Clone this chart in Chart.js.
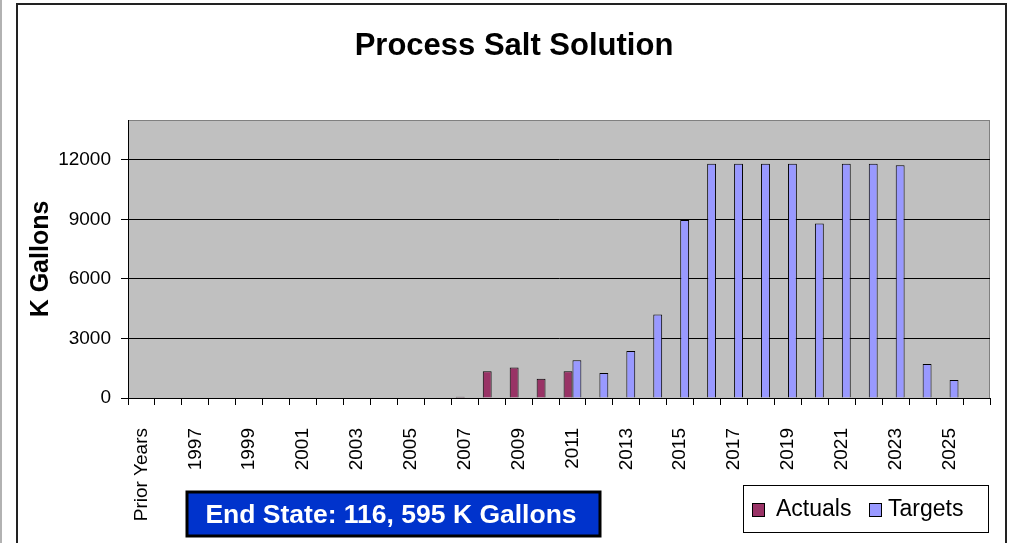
<!DOCTYPE html>
<html lang="en">
<head>
    <meta charset="UTF-8">
    <title>Process Salt Solution</title>
    <script src="https://cdn.jsdelivr.net/npm/chart.js@4.4.1/dist/chart.umd.min.js"></script>
    <style>
        body {
            margin: 0;
            background: #ffffff;
        }
        .chart-box {
            position: relative;
            width: 1013px;
            height: 543px;
        }
    </style>
</head>
<body>
    <div class="chart-box">
        <canvas id="saltChart"></canvas>
    </div>

    <script>
        // Categories: Prior Years, then one per fiscal year
        const categories = ['Prior Years', '1996', '1997', '1998', '1999', '2000', '2001', '2002', '2003',
            '2004', '2005', '2006', '2007', '2008', '2009', '2010', '2011', '2012', '2013', '2014',
            '2015', '2016', '2017', '2018', '2019', '2020', '2021', '2022', '2023', '2024', '2025', '2026'];

        // K Gallons per year
        const actuals = [null, null, null, null, null, null, null, null, null, null, null, null,
            60, 1345, 1530, 975, 1345, null, null, null, null, null, null, null, null, null,
            null, null, null, null, null, null];
        const targets = [null, null, null, null, null, null, null, null, null, null, null, null,
            null, null, null, null, 1900, 1260, 2370, 4200, 8970, 11800, 11800, 11800, 11800, 8790,
            11800, 11800, 11720, 1715, 910, null];

        const yTicks = [0, 3000, 6000, 9000, 12000];
        const chartTitle = 'Process Salt Solution';
        const endStateText = 'End State: 116, 595 K Gallons';

        const FONT = 'Liberation Sans, Arial, sans-serif';

        // frame, grey plot area, title, end state box and legend box
        const decorations = {
            id: 'decorations',
            beforeDraw(chart) {
                const ctx = chart.ctx;
                const a = chart.chartArea;
                ctx.save();
                ctx.fillStyle = '#C0C0C0';
                ctx.fillRect(a.left, a.top, a.right - a.left, a.bottom - a.top);
                ctx.strokeStyle = '#808080';
                ctx.lineWidth = 1;
                ctx.strokeRect(a.left + 0.5, a.top + 0.5, a.right - a.left - 1, a.bottom - a.top);

                ctx.fillStyle = '#000000';
                ctx.font = 'bold 31px ' + FONT;
                ctx.textAlign = 'center';
                ctx.textBaseline = 'middle';
                ctx.fillText(chartTitle, 514, 46);
                ctx.restore();
            },
            afterDraw(chart) {
                const ctx = chart.ctx;
                ctx.save();
                // outer lines
                ctx.strokeStyle = '#999999';
                ctx.lineWidth = 1.5;
                ctx.beginPath();
                ctx.moveTo(1, 0);
                ctx.lineTo(1, 543);
                ctx.stroke();
                ctx.strokeStyle = '#222222';
                ctx.lineWidth = 2;
                ctx.beginPath();
                ctx.moveTo(17, 560);
                ctx.lineTo(17, 4);
                ctx.lineTo(1006, 4);
                ctx.lineTo(1006, 560);
                ctx.stroke();

                // end state box
                ctx.fillStyle = '#0033CC';
                ctx.fillRect(186, 491, 415, 46);
                ctx.strokeStyle = '#000000';
                ctx.lineWidth = 3;
                ctx.strokeRect(187, 492, 413, 44);
                ctx.fillStyle = '#ffffff';
                ctx.font = 'bold 26.5px ' + FONT;
                ctx.textAlign = 'center';
                ctx.textBaseline = 'middle';
                ctx.fillText(endStateText, 391, 516);

                // legend
                ctx.fillStyle = '#ffffff';
                ctx.fillRect(743, 485, 245, 47);
                ctx.strokeStyle = '#000000';
                ctx.lineWidth = 1;
                ctx.strokeRect(743.5, 485.5, 245, 47);
                ctx.font = '23px ' + FONT;
                ctx.textAlign = 'left';
                const items = [[752, 776], [869, 888]];
                chart.data.datasets.forEach((ds, i) => {
                    const [mx, tx] = items[i];
                    ctx.fillStyle = ds.backgroundColor;
                    ctx.fillRect(mx, 503, 13, 14);
                    ctx.strokeStyle = '#000000';
                    ctx.strokeRect(mx + 0.5, 503.5, 12, 13);
                    ctx.fillStyle = '#000000';
                    ctx.fillText(ds.label, tx, 510);
                });
                ctx.restore();
            }
        };

        const ctx = document.getElementById('saltChart').getContext('2d');
        new Chart(ctx, {
            type: 'bar',
            data: {
                labels: categories,
                datasets: [{
                    label: 'Actuals',
                    data: actuals,
                    backgroundColor: '#993366',
                    borderColor: '#000000',
                    borderWidth: 1
                }, {
                    label: 'Targets',
                    data: targets,
                    backgroundColor: '#9999FF',
                    borderColor: '#000000',
                    borderWidth: 1
                }]
            },
            options: {
                responsive: true,
                maintainAspectRatio: false,
                animation: false,
                categoryPercentage: 0.66,
                barPercentage: 1.0,
                layout: {
                    padding: { left: 0, right: 23, top: 120, bottom: 0 }
                },
                plugins: {
                    legend: { display: false },
                    tooltip: { enabled: false },
                    title: { display: false }
                },
                scales: {
                    x: {
                        afterFit(scale) {
                            scale.height = 145;
                            scale.paddingLeft = 0;
                            scale.paddingRight = 0;
                        },
                        grid: {
                            offset: true,
                            drawOnChartArea: false,
                            color: '#000000',
                            tickLength: 7
                        },
                        border: { color: '#000000' },
                        ticks: {
                            autoSkip: false,
                            minRotation: 90,
                            maxRotation: 90,
                            padding: 23,
                            color: '#000000',
                            font: { family: FONT, size: 19 },
                            callback(value, index) {
                                return index % 2 === 0 ? categories[index] : '';
                            }
                        }
                    },
                    y: {
                        min: 0,
                        max: 14000,
                        afterFit(scale) {
                            scale.width = 128;
                            scale.paddingTop = 0;
                            scale.paddingBottom = 0;
                        },
                        afterBuildTicks(scale) {
                            scale.ticks = yTicks.map(v => ({ value: v }));
                        },
                        grid: {
                            color: '#000000',
                            tickLength: 7
                        },
                        border: { color: '#000000' },
                        ticks: {
                            padding: 10,
                            color: '#000000',
                            font: { family: FONT, size: 19 },
                            callback(value) { return String(value); }
                        },
                        title: {
                            display: true,
                            text: 'K Gallons',
                            color: '#000000',
                            font: { family: FONT, size: 25, weight: 'bold' },
                            padding: { top: 26, bottom: 0 }
                        }
                    }
                }
            },
            plugins: [decorations]
        });
    </script>
</body>
</html>
